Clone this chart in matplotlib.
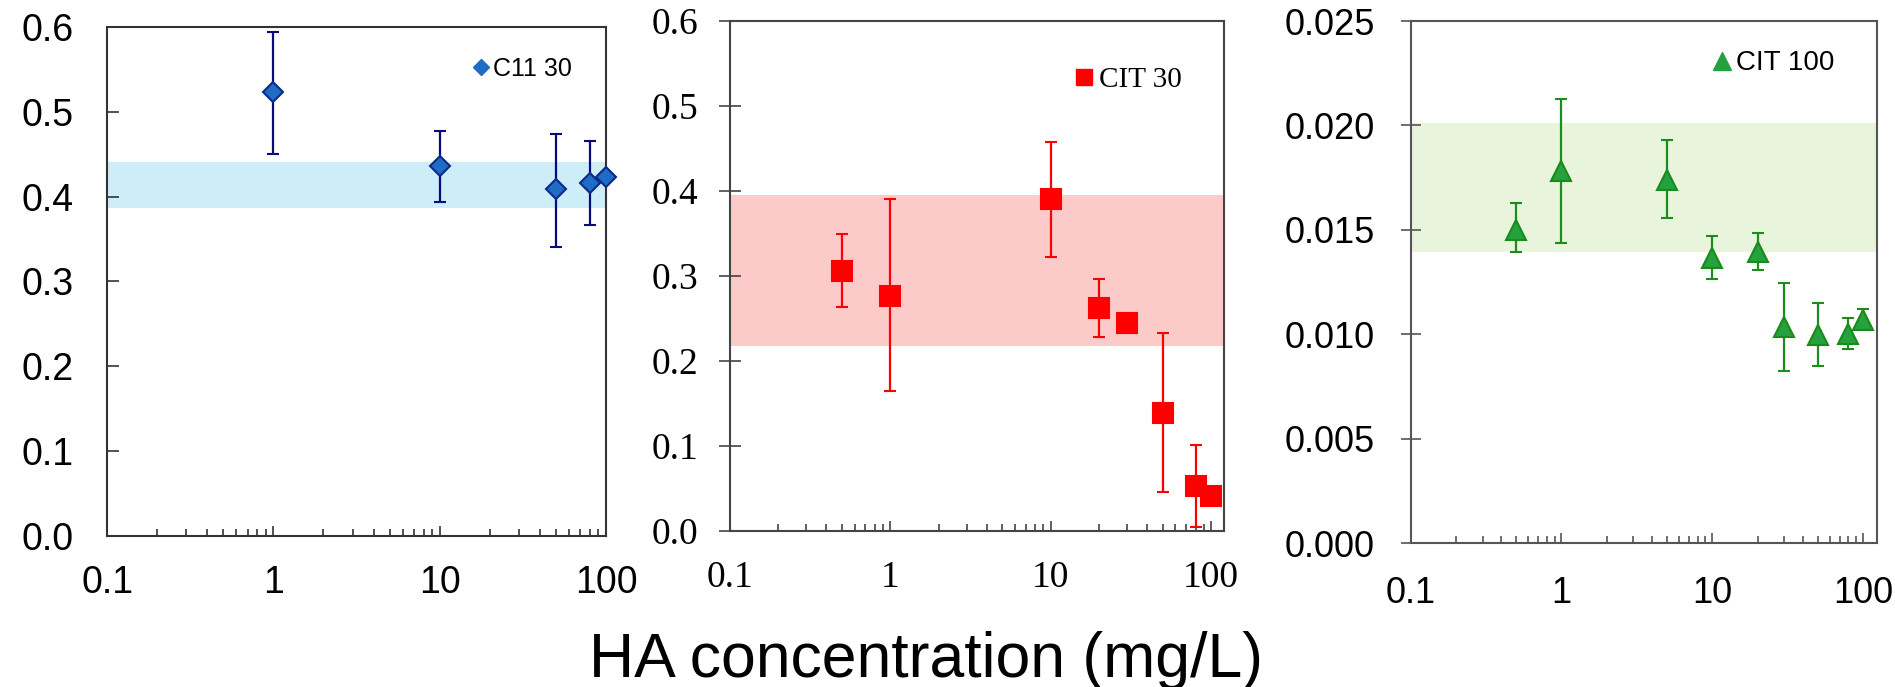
import numpy as np
import matplotlib.pyplot as plt
from matplotlib.ticker import FixedLocator, FixedFormatter, LogLocator, NullFormatter
from matplotlib.lines import Line2D

# HA concentration (mg/L) vs value
c11_x = [1, 10, 50, 80, 100]
c11_y = [0.523, 0.436, 0.409, 0.416, 0.423]
c11_lo = [0.450, 0.394, 0.341, 0.367, 0.420]
c11_hi = [0.594, 0.477, 0.474, 0.466, 0.426]
c11_band = [0.386, 0.441]

cit30_x = [0.5, 1, 10, 20, 30, 50, 80, 100]
cit30_y = [0.306, 0.277, 0.390, 0.262, 0.245, 0.139, 0.053, 0.041]
cit30_lo = [0.263, 0.165, 0.322, 0.228, 0.245, 0.046, 0.005, 0.041]
cit30_hi = [0.349, 0.391, 0.458, 0.296, 0.245, 0.233, 0.101, 0.041]
cit30_band = [0.218, 0.395]

cit100_x = [0.5, 1, 5, 10, 20, 30, 50, 80, 100]
cit100_y = [0.0150, 0.0178, 0.0174, 0.01367, 0.01395, 0.01034, 0.00994, 0.01001, 0.01067]
cit100_lo = [0.01396, 0.01437, 0.01557, 0.01265, 0.01307, 0.00824, 0.00849, 0.00928, 0.01025]
cit100_hi = [0.01627, 0.02128, 0.01931, 0.01471, 0.01484, 0.01246, 0.01148, 0.01080, 0.01120]
cit100_band = [0.01395, 0.0201]

xticks = [0.1, 1, 10, 100]
xtick_labels = ['0.1', '1', '10', '100']
yticks_a = [0.0, 0.1, 0.2, 0.3, 0.4, 0.5, 0.6]
yticks_a_labels = ['0.0', '0.1', '0.2', '0.3', '0.4', '0.5', '0.6']
yticks_c = [0.0, 0.005, 0.010, 0.015, 0.020, 0.025]
yticks_c_labels = ['0.000', '0.005', '0.010', '0.015', '0.020', '0.025']

SANS = 'Liberation Sans'
SERIF = 'Liberation Serif'

fig = plt.figure(figsize=(18.95, 6.87), dpi=100)

ax1 = fig.add_axes([0.0565, 0.2198, 0.2633, 0.741])
ax2 = fig.add_axes([0.3851, 0.2271, 0.2607, 0.7424])
ax3 = fig.add_axes([0.7444, 0.2096, 0.2459, 0.7598])


def setup(ax, xmax, ylim, yt, ytl, font, size, ydir, ylen, ypad, xpad, spine_col):
    ax.set_xscale('log')
    ax.set_xlim(0.1, xmax)
    ax.set_ylim(*ylim)
    ax.xaxis.set_major_locator(FixedLocator(xticks))
    ax.xaxis.set_major_formatter(FixedFormatter(xtick_labels))
    ax.xaxis.set_minor_locator(LogLocator(base=10, subs=np.arange(2, 10), numticks=20))
    ax.xaxis.set_minor_formatter(NullFormatter())
    ax.yaxis.set_major_locator(FixedLocator(yt))
    ax.yaxis.set_major_formatter(FixedFormatter(ytl))
    ax.tick_params(axis='x', which='major', direction='in', length=7.5, width=1.2,
                   pad=xpad, color=spine_col)
    ax.tick_params(axis='x', which='minor', direction='in', length=5.2, width=1.2,
                   color=spine_col)
    ax.tick_params(axis='y', which='major', direction=ydir, length=ylen, width=1.2,
                   pad=ypad, color=spine_col)
    for lab in ax.get_xticklabels() + ax.get_yticklabels():
        lab.set_fontfamily(font)
        lab.set_fontsize(size)
    for s in ax.spines.values():
        s.set_color(spine_col)
        s.set_linewidth(1.5)


def draw(ax, x, y, lo, hi, band, band_col, marker, ms, mfc, mec, ecol, cap):
    y = np.array(y)
    yerr = [y - np.array(lo), np.array(hi) - y]
    ax.axhspan(band[0], band[1], color=band_col, lw=0, zorder=0)
    ax.errorbar(x, y, yerr=yerr, fmt=marker, ms=ms, mfc=mfc, mec=mec, mew=1.5,
                ecolor=ecol, elinewidth=1.6, capsize=cap, capthick=1.6,
                clip_on=False, zorder=3)


setup(ax1, 100, (0, 0.6), yticks_a, yticks_a_labels, SANS, 27, 'in', 8.3, 24, 21, '#333333')
draw(ax1, c11_x, c11_y, c11_lo, c11_hi, c11_band, '#cdeef9', 'D', 10,
     '#1f6cc4', '#0b2a8a', '#0a0a80', 4)

setup(ax2, 120, (0, 0.6), yticks_a, yticks_a_labels, SERIF, 27, 'inout', 15.8, 15, 21, '#444444')
draw(ax2, cit30_x, cit30_y, cit30_lo, cit30_hi, cit30_band, '#fdcaca', 's', 14,
     '#ff0000', '#ff0000', '#ff0000', 4)

setup(ax3, 123, (0, 0.025), yticks_c, yticks_c_labels, SANS, 26, 'inout', 14.4, 18.4, 24, '#555555')
draw(ax3, cit100_x, cit100_y, cit100_lo, cit100_hi, cit100_band, '#e8f5dc', '^', 14.5,
     '#25a23f', '#1a8a1a', '#1c8c1c', 4.2)

# legends (marker only, as in the original)
h1 = Line2D([], [], marker='D', ls='none', ms=8.5, mfc='#1f6cc4', mec='#1f6cc4')
ax1.legend([h1], ['C11 30'], loc='center left', bbox_to_anchor=(0.729, 0.917),
           frameon=False, handlelength=0.8, handletextpad=0.1, borderpad=0,
           borderaxespad=0, prop={'family': SANS, 'size': 18})
h2 = Line2D([], [], marker='s', ls='none', ms=12, mfc='#ff0000', mec='#ff0000')
ax2.legend([h2], ['CIT 30'], loc='center left', bbox_to_anchor=(0.694, 0.885),
           frameon=False, handlelength=0.8, handletextpad=0.1, borderpad=0,
           borderaxespad=0, prop={'family': SERIF, 'size': 21})
h3 = Line2D([], [], marker='^', ls='none', ms=12.5, mfc='#25a23f', mec='#25a23f')
ax3.legend([h3], ['CIT 100'], loc='center left', bbox_to_anchor=(0.645, 0.919),
           frameon=False, handlelength=0.8, handletextpad=0.1, borderpad=0,
           borderaxespad=0, prop={'family': SANS, 'size': 20})

fig.text(0.4887, 0.0146, 'HA concentration (mg/L)', ha='center', va='baseline',
         fontsize=45, family=SANS)

fig.savefig('out.png', dpi=100)
